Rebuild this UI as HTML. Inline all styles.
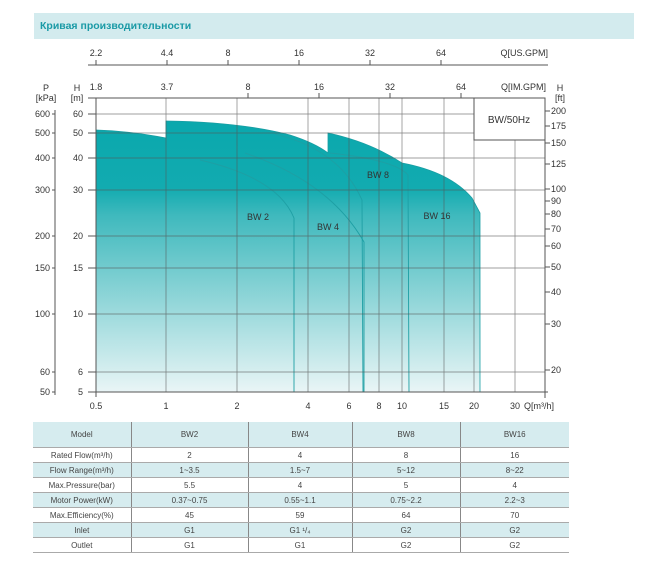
<!DOCTYPE html>
<html><head><meta charset="utf-8"><style>
body{margin:0;background:#fff;width:650px;height:575px;overflow:hidden;font-family:"Liberation Sans",Arial,sans-serif}
.hdr{position:absolute;left:34px;top:13px;width:600px;height:26px;background:#d3ebee;color:#1a9aa6;font-size:10.5px;line-height:26px;padding-left:6px;box-sizing:border-box;font-weight:bold}
table{position:absolute;left:33px;top:422px;border-collapse:collapse;font-size:8px;color:#444;text-align:center}
td{border-left:1px solid #888;height:14px;padding:0;border-bottom:1px solid #aaa}
td:first-child{border-left:none}
tr.s td{background:#d6ecef}
tr.h td{height:25px}
</style></head><body>
<div class="hdr">Кривая производительности</div>
<svg width="650" height="575" style="position:absolute;left:0;top:0" font-family="Liberation Sans, Arial, sans-serif">
<defs><linearGradient id="g" gradientUnits="userSpaceOnUse" x1="0" y1="120" x2="0" y2="392">
<stop offset="0" stop-color="#0aa8ad"/><stop offset="0.25" stop-color="#12abb0"/><stop offset="0.35" stop-color="#3fb9bd"/><stop offset="1" stop-color="#e9f5f6"/></linearGradient></defs>
<g fill="#333" font-size="9">
<line x1="88" y1="65" x2="548" y2="65" stroke="#555"/>
<g stroke="#555"><line x1="96" y1="65" x2="96" y2="60"/><line x1="167" y1="65" x2="167" y2="60"/><line x1="228" y1="65" x2="228" y2="60"/><line x1="299" y1="65" x2="299" y2="60"/><line x1="370" y1="65" x2="370" y2="60"/><line x1="441" y1="65" x2="441" y2="60"/></g>
<text x="96" y="56" text-anchor="middle">2.2</text><text x="167" y="56" text-anchor="middle">4.4</text><text x="228" y="56" text-anchor="middle">8</text><text x="299" y="56" text-anchor="middle">16</text><text x="370" y="56" text-anchor="middle">32</text><text x="441" y="56" text-anchor="middle">64</text>
<text x="548" y="56" text-anchor="end">Q[US.GPM]</text>
<line x1="88" y1="98" x2="545" y2="98" stroke="#555"/>
<g stroke="#555"><line x1="248" y1="98" x2="248" y2="93"/><line x1="319" y1="98" x2="319" y2="93"/><line x1="390" y1="98" x2="390" y2="93"/><line x1="461" y1="98" x2="461" y2="93"/></g>
<text x="96" y="90" text-anchor="middle">1.8</text><text x="167" y="90" text-anchor="middle">3.7</text><text x="248" y="90" text-anchor="middle">8</text><text x="319" y="90" text-anchor="middle">16</text><text x="390" y="90" text-anchor="middle">32</text><text x="461" y="90" text-anchor="middle">64</text>
<text x="546" y="90" text-anchor="end">Q[IM.GPM]</text>
<text x="560" y="91" text-anchor="middle">H</text><text x="560" y="101" text-anchor="middle">[ft]</text>
<text x="46" y="91" text-anchor="middle">P</text><text x="46" y="101" text-anchor="middle">[kPa]</text>
<text x="77" y="91" text-anchor="middle">H</text><text x="77" y="101" text-anchor="middle">[m]</text>
</g>
<path d="M96,392 L96,130 Q130,131 166,138 L166,121 Q240,122 290,135 Q315,143 328,153 L328,133 Q370,142 402,163 Q450,172 472,198 L480,213 L480,392 Z" fill="url(#g)" stroke="#1a9ea3" stroke-width="0.8"/>
<g fill="none" stroke="#1e9fa4" stroke-width="0.9">
<path d="M200,160 Q278,178 294,218 L294,392"/>
<path d="M245,153 Q330,182 364,242 L364,392"/>
<path d="M275,134 Q340,150 362,200 L363,392"/>
<path d="M330,153 Q395,160 408,175 L409,392"/>
</g>
<g stroke="#555" stroke-width="0.7" opacity="0.75">
<line x1="166" y1="98" x2="166" y2="392"/><line x1="237" y1="98" x2="237" y2="392"/><line x1="308" y1="98" x2="308" y2="392"/><line x1="349" y1="98" x2="349" y2="392"/><line x1="379" y1="98" x2="379" y2="392"/><line x1="402" y1="98" x2="402" y2="392"/><line x1="444" y1="98" x2="444" y2="392"/><line x1="474" y1="140" x2="474" y2="392"/><line x1="515" y1="140" x2="515" y2="392"/>
<line x1="96" y1="372" x2="545" y2="372"/><line x1="96" y1="314" x2="545" y2="314"/><line x1="96" y1="268" x2="545" y2="268"/><line x1="96" y1="236" x2="545" y2="236"/><line x1="96" y1="190" x2="545" y2="190"/><line x1="96" y1="158" x2="545" y2="158"/><line x1="96" y1="133" x2="545" y2="133"/><line x1="96" y1="114" x2="474" y2="114"/>
</g>
<g stroke="#555" fill="none">
<line x1="96" y1="98" x2="96" y2="392"/><line x1="545" y1="98" x2="545" y2="398"/>
<line x1="90" y1="392" x2="548" y2="392"/>
<rect x="474" y="98" width="71" height="42" fill="#fff"/>
<line x1="55" y1="110" x2="55" y2="395"/>
</g>
<text x="509" y="123" text-anchor="middle" font-size="10" fill="#333">BW/50Hz</text>
<g font-size="9" fill="#333">
<text x="258" y="220" text-anchor="middle">BW 2</text><text x="328" y="230" text-anchor="middle">BW 4</text><text x="378" y="178" text-anchor="middle">BW 8</text><text x="437" y="219" text-anchor="middle">BW 16</text>
</g>
<g font-size="9" fill="#333" stroke="none">
<g text-anchor="end">
<text x="83" y="395">5</text><text x="83" y="375">6</text><text x="83" y="317">10</text><text x="83" y="271">15</text><text x="83" y="239">20</text><text x="83" y="193">30</text><text x="83" y="161">40</text><text x="83" y="136">50</text><text x="83" y="117">60</text>
<text x="50" y="395">50</text><text x="50" y="375">60</text><text x="50" y="317">100</text><text x="50" y="271">150</text><text x="50" y="239">200</text><text x="50" y="193">300</text><text x="50" y="161">400</text><text x="50" y="136">500</text><text x="50" y="117">600</text>
</g>
<g stroke="#555"><line x1="88" y1="392" x2="96" y2="392"/><line x1="88" y1="372" x2="96" y2="372"/><line x1="88" y1="314" x2="96" y2="314"/><line x1="88" y1="268" x2="96" y2="268"/><line x1="88" y1="236" x2="96" y2="236"/><line x1="88" y1="190" x2="96" y2="190"/><line x1="88" y1="158" x2="96" y2="158"/><line x1="88" y1="133" x2="96" y2="133"/><line x1="88" y1="114" x2="96" y2="114"/>
<line x1="52" y1="392" x2="55" y2="392"/><line x1="52" y1="372" x2="55" y2="372"/><line x1="52" y1="314" x2="55" y2="314"/><line x1="52" y1="268" x2="55" y2="268"/><line x1="52" y1="236" x2="55" y2="236"/><line x1="52" y1="190" x2="55" y2="190"/><line x1="52" y1="158" x2="55" y2="158"/><line x1="52" y1="133" x2="55" y2="133"/><line x1="52" y1="114" x2="55" y2="114"/>
</g>
<g stroke="#555"><line x1="545" y1="111" x2="550" y2="111"/><line x1="545" y1="126" x2="550" y2="126"/><line x1="545" y1="143" x2="550" y2="143"/><line x1="545" y1="164" x2="550" y2="164"/><line x1="545" y1="189" x2="550" y2="189"/><line x1="545" y1="201" x2="550" y2="201"/><line x1="545" y1="214" x2="550" y2="214"/><line x1="545" y1="229" x2="550" y2="229"/><line x1="545" y1="246" x2="550" y2="246"/><line x1="545" y1="267" x2="550" y2="267"/><line x1="545" y1="292" x2="550" y2="292"/><line x1="545" y1="324" x2="550" y2="324"/><line x1="545" y1="370" x2="550" y2="370"/></g>
<text x="551" y="114">200</text><text x="551" y="129">175</text><text x="551" y="146">150</text><text x="551" y="167">125</text><text x="551" y="192">100</text><text x="551" y="204">90</text><text x="551" y="217">80</text><text x="551" y="232">70</text><text x="551" y="249">60</text><text x="551" y="270">50</text><text x="551" y="295">40</text><text x="551" y="327">30</text><text x="551" y="373">20</text>
<g stroke="#555"><line x1="96" y1="392" x2="96" y2="397"/><line x1="545" y1="392" x2="545" y2="397"/></g>
<g text-anchor="middle">
<text x="96" y="409">0.5</text><text x="166" y="409">1</text><text x="237" y="409">2</text><text x="308" y="409">4</text><text x="349" y="409">6</text><text x="379" y="409">8</text><text x="402" y="409">10</text><text x="444" y="409">15</text><text x="474" y="409">20</text><text x="515" y="409">30</text></g>
<text x="524" y="409">Q[m³/h]</text>
</g>
</svg>
<table>
<colgroup><col style="width:98px"><col style="width:117px"><col style="width:104px"><col style="width:108px"><col style="width:109px"></colgroup>
<tr class="h s"><td>Model</td><td>BW2</td><td>BW4</td><td>BW8</td><td>BW16</td></tr>
<tr><td>Rated Flow(m³/h)</td><td>2</td><td>4</td><td>8</td><td>16</td></tr>
<tr class="s"><td>Flow Range(m³/h)</td><td>1~3.5</td><td>1.5~7</td><td>5~12</td><td>8~22</td></tr>
<tr><td>Max.Pressure(bar)</td><td>5.5</td><td>4</td><td>5</td><td>4</td></tr>
<tr class="s"><td>Motor Power(kW)</td><td>0.37~0.75</td><td>0.55~1.1</td><td>0.75~2.2</td><td>2.2~3</td></tr>
<tr><td>Max.Efficiency(%)</td><td>45</td><td>59</td><td>64</td><td>70</td></tr>
<tr class="s"><td>Inlet</td><td>G1</td><td>G1 ¹/₄</td><td>G2</td><td>G2</td></tr>
<tr><td>Outlet</td><td>G1</td><td>G1</td><td>G2</td><td>G2</td></tr>
</table>
</body></html>
